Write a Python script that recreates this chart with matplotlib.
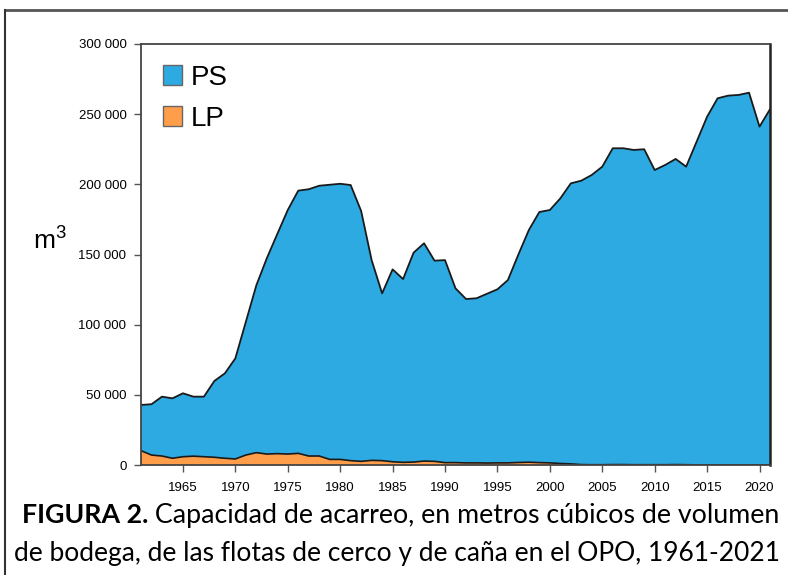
import matplotlib
matplotlib.use("Agg")
import matplotlib.pyplot as plt
from matplotlib.patches import Patch
from matplotlib.lines import Line2D

years = list(range(1961, 2022))
ps = [32600, 36200, 42300, 42700, 45200, 42400, 42800, 54400, 60500, 71700,
      94900, 119200, 139500, 156500, 173900, 187200, 190100, 192600, 195700, 196400,
      196400, 178400, 142700, 119200, 137100, 130600, 149200, 155200, 143000, 144300,
      124200, 116800, 117300, 120600, 123700, 130300, 148200, 165500, 178600, 180200,
      188900, 199900, 202300, 206500, 212400, 225400, 225400, 224300, 224800, 210000,
      213600, 217800, 212400, 230300, 248100, 261200, 263100, 263600, 265200, 241000,
      253400]
lp = [10200, 7100, 6400, 4800, 5900, 6300, 5900, 5500, 4800, 4300,
      7100, 8800, 7800, 8100, 7800, 8300, 6400, 6400, 4000, 4000,
      3100, 2600, 3300, 3100, 2300, 1900, 2100, 2800, 2600, 1700,
      1700, 1500, 1500, 1400, 1500, 1500, 1800, 2000, 1700, 1500,
      1100, 800, 300, 200, 200, 300, 300, 200, 200, 200,
      200, 300, 200, 100, 100, 100, 100, 100, 100, 100,
      100]
series_labels = ["PS", "LP"]
y_ticks = [0, 50000, 100000, 150000, 200000, 250000, 300000]
y_tick_labels = ["0", "50 000", "100 000", "150 000", "200 000", "250 000", "300 000"]
x_ticks = [1965, 1970, 1975, 1980, 1985, 1990, 1995, 2000, 2005, 2010, 2015, 2020]

blue = "#2EAAE2"
orange = "#FF9E4A"

plt.rcParams["font.family"] = ["Liberation Sans", "DejaVu Sans"]
plt.rcParams["mathtext.fontset"] = "custom"
plt.rcParams["mathtext.rm"] = "Liberation Sans"

fig = plt.figure(figsize=(7.88, 5.75), dpi=100)
ax = fig.add_axes([141/788, 1-465/575, (770-141)/788, (465-44)/575])

ax.stackplot(years, lp, ps, colors=[orange, blue], edgecolor="none")
total = [a + b for a, b in zip(lp, ps)]
ax.plot(years, lp, color="#1a1a1a", lw=1.2)
ax.plot(years, total, color="#1a1a1a", lw=1.3)

ax.set_xlim(1961, 2021)
ax.set_ylim(0, 300000)
ax.set_yticks(y_ticks)
ax.set_yticklabels(y_tick_labels, fontsize=9.5)
ax.set_xticks(x_ticks)
ax.set_xticklabels([str(x) for x in x_ticks], fontsize=9.5)
ax.tick_params(axis="both", direction="out", length=5, width=1, color="#555555")
ax.tick_params(axis="y", pad=5.5)
ax.tick_params(axis="x", pad=7)
for s in ax.spines.values():
    s.set_color("#444444")
    s.set_linewidth(1.3)
ax.spines["right"].set_color("#222222")
ax.spines["right"].set_linewidth(1.8)

handles = [Patch(facecolor=blue, edgecolor="#666666", lw=1),
           Patch(facecolor=orange, edgecolor="#666666", lw=1)]
ax.legend(handles, series_labels, loc="upper left", frameon=False, fontsize=20,
          handlelength=0.7, handleheight=0.7, handletextpad=0.3, labelspacing=0.55,
          borderaxespad=0.0, borderpad=0.0, bbox_to_anchor=(0.035, 0.951))

fig.text(33/788, 1-240/575, r"m$^3$", fontsize=19, ha="left", va="center")

# Figure frame
fig.add_artist(Line2D([5/788, 1], [1-10/575, 1-10/575], transform=fig.transFigure,
                      color="#555555", lw=2))
fig.add_artist(Line2D([5/788, 5/788], [0, 1-10/575], transform=fig.transFigure,
                      color="#333333", lw=1.5))

# Caption
cap_font = ["Lato", "DejaVu Sans"]
fig.canvas.draw()
r = fig.canvas.get_renderer()
bold = "FIGURA 2."
rest = " Capacidad de acarreo, en metros cúbicos de volumen"
line2 = "de bodega, de las flotas de cerco y de caña en el OPO, 1961-2021"
fs0 = 19.5
probe = fig.text(0, 0, line2, fontsize=fs0, family=cap_font)
wl2 = probe.get_window_extent(r).width
probe.remove()
fs = fs0 * 767 / wl2
pb = fig.text(0, 0, bold, fontsize=fs, fontweight="bold", family=cap_font)
pr = fig.text(0, 0, rest, fontsize=fs, family=cap_font)
wl1 = pb.get_window_extent(r).width + pr.get_window_extent(r).width
pb.remove()
pr.remove()
fs1 = fs * 757 / wl1
t1 = fig.text(0, 0, bold, fontsize=fs1, fontweight="bold", family=cap_font)
t2 = fig.text(0, 0, rest, fontsize=fs1, family=cap_font)
w1 = t1.get_window_extent(r).width
w2 = t2.get_window_extent(r).width
tw = w1 + w2
cx = 401
x0 = cx - tw / 2
y1 = 1 - 515/575
t1.set_position((x0/788, y1))
t1.set_va("center")
t2.set_position(((x0 + w1)/788, y1))
t2.set_va("center")
fig.text(397/788, 1 - 553/575, line2, fontsize=fs, family=cap_font, ha="center", va="center")

fig.savefig("out.png", dpi=100)
